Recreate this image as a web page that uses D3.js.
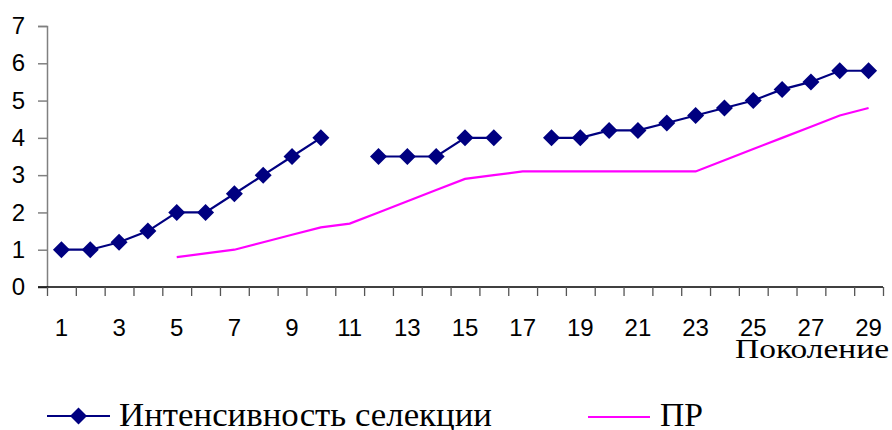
<!DOCTYPE html>
<html><head><meta charset="utf-8">
<script src="https://cdn.jsdelivr.net/npm/d3@7"></script>
<style>body{margin:0;background:#fff}svg{display:block}</style>
</head><body>
<script>
const categories = d3.range(1, 30);
const selection = [1,1,1.2,1.5,2,2,2.5,3,3.5,4,null,3.5,3.5,3.5,4,4,null,4,4,4.2,4.2,4.4,4.6,4.8,5,5.3,5.5,5.8,5.8];
const pr = [null,null,null,null,0.8,0.9,1.0,1.2,1.4,1.6,1.7,2.0,2.3,2.6,2.9,3.0,3.1,3.1,3.1,3.1,3.1,3.1,3.1,3.4,3.7,4.0,4.3,4.6,4.8];
const yTicks = [0,1,2,3,4,5,6,7];
const xLabels = categories.filter(c => c % 2 === 1);
const seriesNames = ["Интенсивность селекции", "ПР"];
const xTitle = "Поколение";

const W = 892, H = 430;
const L = 47, R = 883, T = 26, B = 287;
const svg = d3.select("body").append("svg").attr("width", W).attr("height", H);

const x = d3.scaleBand().domain(categories).range([L, R]).padding(0);
const xb = d3.scaleLinear().domain([0, categories.length]).range([L, R]);
const y = d3.scaleLinear().domain([0, 7]).range([B, T]);
const cx = c => x(c) + x.bandwidth() / 2;

// Y axis
const gy = svg.append("g").attr("transform", `translate(${L},0)`)
  .call(d3.axisLeft(y).tickValues(yTicks).tickSize(9).tickPadding(13).tickFormat(d3.format("d")));
gy.select(".domain").attr("stroke", "#808080").attr("stroke-width", 1.5);
gy.selectAll(".tick line").attr("stroke", "#808080").attr("stroke-width", 1.5);
gy.selectAll("text").attr("font-family", "Liberation Sans, Arial, sans-serif").attr("font-size", 24).attr("fill", "#000");

// X axis boundary ticks
const gx = svg.append("g").attr("transform", `translate(0,${B})`)
  .call(d3.axisBottom(xb).tickValues(d3.range(0, categories.length + 1)).tickSize(9).tickFormat(""));
gx.select(".domain").attr("stroke", "#000").attr("stroke-width", 1.5).attr("d", `M${L - 9},0H${R}`);
gx.selectAll(".tick line").attr("stroke", "#555").attr("stroke-width", 1.3);

// X labels
const gl = svg.append("g").attr("transform", `translate(0,${B})`)
  .call(d3.axisBottom(x).tickValues(xLabels).tickSize(0).tickPadding(0));
gl.select(".domain").remove();
gl.selectAll("text").attr("y", 49).attr("dy", 0).attr("font-family", "Liberation Sans, Arial, sans-serif")
  .attr("font-size", 24).attr("fill", "#000");

// X title
svg.append("text").attr("x", 889).attr("y", 358).attr("text-anchor", "end")
  .attr("font-family", "Liberation Serif, Times New Roman, serif").attr("font-size", 27)
  .attr("textLength", 154).attr("lengthAdjust", "spacingAndGlyphs").text(xTitle);

// PR line
const prData = categories.map((c, i) => ({c, v: pr[i]}));
svg.append("path").datum(prData)
  .attr("d", d3.line().defined(d => d.v != null).x(d => cx(d.c)).y(d => y(d.v)))
  .attr("fill", "none").attr("stroke", "#FF00FF").attr("stroke-width", 2.2);

// Selection line
const selData = categories.map((c, i) => ({c, v: selection[i]}));
svg.append("path").datum(selData)
  .attr("d", d3.line().defined(d => d.v != null).x(d => cx(d.c)).y(d => y(d.v)))
  .attr("fill", "none").attr("stroke", "#000080").attr("stroke-width", 2.2);

const diamond = (px, py, r) => `M${px},${py - r}L${px + r},${py}L${px},${py + r}L${px - r},${py}Z`;
svg.append("g").selectAll("path").data(selData.filter(d => d.v != null)).join("path")
  .attr("d", d => diamond(cx(d.c), y(d.v), 8.5)).attr("fill", "#000080");

// Legend
const lg = svg.append("g");
lg.append("line").attr("x1", 47).attr("x2", 110).attr("y1", 416).attr("y2", 416)
  .attr("stroke", "#000080").attr("stroke-width", 2.2);
lg.append("path").attr("d", diamond(78.5, 416, 8.5)).attr("fill", "#000080");
lg.append("text").attr("x", 119).attr("y", 426).attr("font-family", "Liberation Serif, Times New Roman, serif")
  .attr("font-size", 33).attr("textLength", 373).attr("lengthAdjust", "spacingAndGlyphs").text(seriesNames[0]);
lg.append("line").attr("x1", 588).attr("x2", 650).attr("y1", 417).attr("y2", 417)
  .attr("stroke", "#FF00FF").attr("stroke-width", 2.2);
lg.append("text").attr("x", 660).attr("y", 426).attr("font-family", "Liberation Serif, Times New Roman, serif")
  .attr("font-size", 33).attr("textLength", 43).attr("lengthAdjust", "spacingAndGlyphs").text(seriesNames[1]);
</script>
</body></html>
